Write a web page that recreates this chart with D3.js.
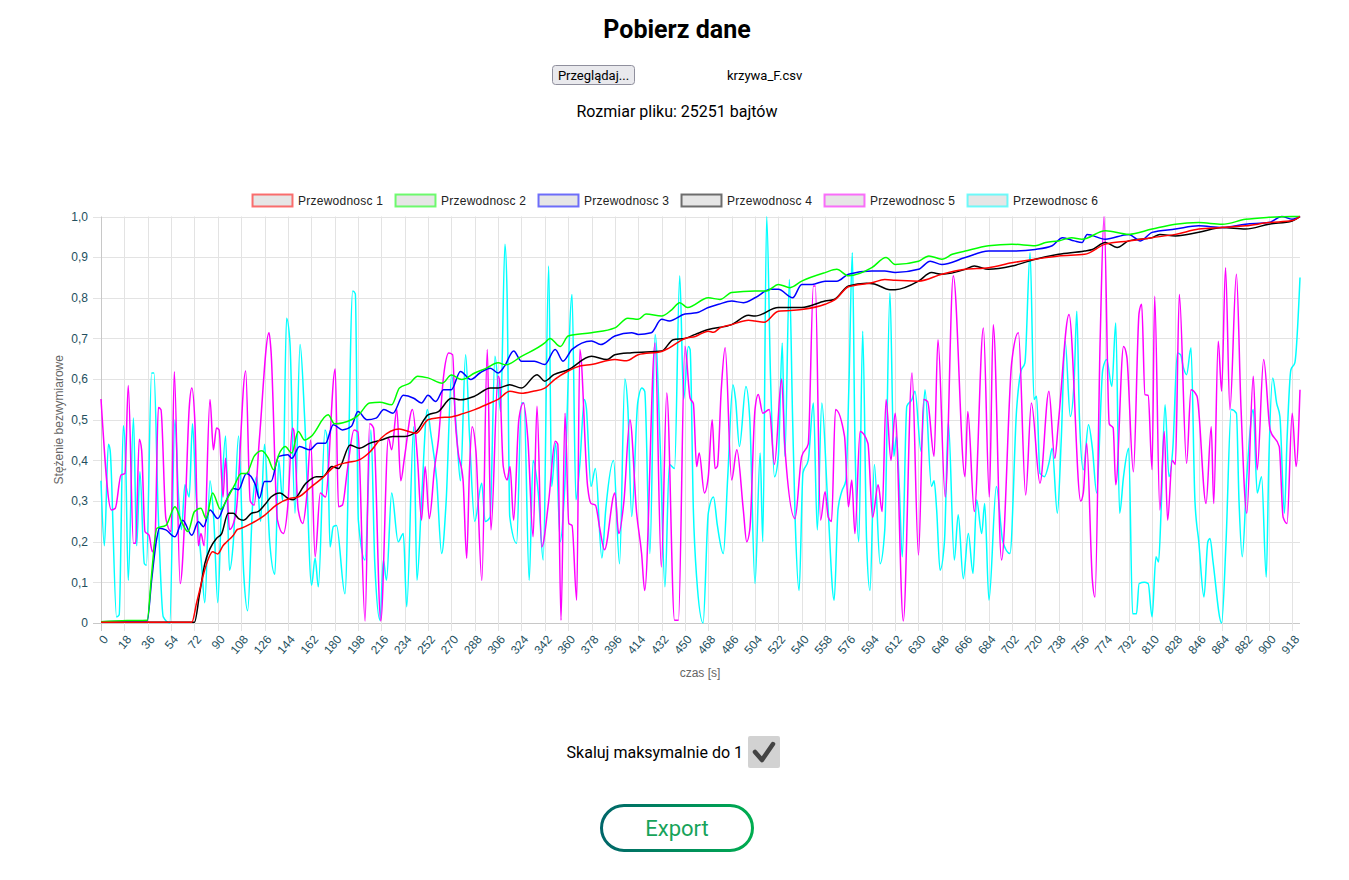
<!DOCTYPE html>
<html>
<head>
<meta charset="utf-8">
<script src="https://cdn.jsdelivr.net/npm/d3@7"></script>
<style>
  body { margin: 0; background: #fff; }
  svg { display: block; }
</style>
</head>
<body>
<div id="chart"></div>
<script>

// dane: [czas s, stezenie]
var przew1 = [[0,0.002],[70,0.002],[73.7,0.05],[76,0.08],[79,0.12],[83,0.16],[86,0.175],[90,0.17],[94,0.19],[97,0.2],[102,0.216],[105,0.23],[108,0.233],[116,0.245],[126,0.265],[135,0.29],[146,0.307],[152,0.31],[162,0.335],[170,0.355],[180,0.385],[190,0.395],[198,0.40],[207,0.42],[216,0.455],[230,0.477],[234,0.474],[243,0.467],[252,0.50],[260,0.505],[270,0.507],[279,0.515],[288,0.525],[299,0.54],[306,0.55],[315,0.57],[324,0.565],[333,0.57],[342,0.578],[350,0.6],[360,0.62],[369,0.632],[378,0.636],[396,0.648],[405,0.645],[414,0.66],[432,0.668],[438,0.677],[450,0.70],[458,0.705],[468,0.718],[472,0.715],[477,0.726],[486,0.734],[499,0.745],[504,0.743],[511,0.74],[522,0.767],[540,0.771],[558,0.784],[566,0.796],[576,0.827],[594,0.837],[604,0.845],[612,0.843],[630,0.841],[648,0.858],[666,0.87],[684,0.874],[702,0.886],[720,0.895],[738,0.903],[758,0.907],[774,0.932],[792,0.94],[810,0.948],[828,0.956],[846,0.969],[864,0.973],[882,0.977],[900,0.985],[918,0.99],[924,1.0]];

var przew2 = [[0,0.003],[20,0.006],[35.6,0.007],[39,0.12],[43,0.233],[50,0.24],[57,0.286],[62,0.25],[67,0.225],[72,0.274],[77,0.282],[81,0.257],[86,0.32],[92,0.28],[98,0.31],[103,0.34],[108,0.368],[112,0.368],[118,0.41],[124,0.424],[129,0.405],[133,0.377],[137,0.414],[142,0.434],[147,0.418],[152,0.471],[157,0.45],[162,0.459],[175,0.512],[180,0.49],[193,0.5],[198,0.51],[207,0.541],[215,0.543],[224,0.537],[230,0.578],[238,0.59],[244,0.607],[252,0.603],[263,0.59],[270,0.61],[278,0.599],[288,0.615],[297,0.627],[306,0.64],[312,0.635],[324,0.656],[342,0.689],[346,0.70],[354,0.68],[360,0.706],[378,0.714],[396,0.726],[406,0.75],[414,0.747],[420,0.76],[432,0.755],[440,0.771],[446,0.788],[452,0.776],[468,0.80],[477,0.796],[486,0.813],[504,0.817],[513,0.817],[522,0.833],[531,0.825],[540,0.841],[558,0.862],[567,0.87],[576,0.854],[594,0.874],[605,0.899],[612,0.882],[630,0.89],[638,0.903],[648,0.895],[656,0.907],[666,0.915],[684,0.928],[702,0.932],[720,0.928],[728,0.936],[738,0.94],[748,0.948],[756,0.944],[774,0.965],[792,0.956],[810,0.969],[828,0.981],[846,0.985],[864,0.981],[882,0.993],[900,0.998],[918,1.0],[924,1.0]];

var przew3 = [[0,0.003],[20,0.004],[35.6,0.005],[39,0.105],[43,0.208],[45,0.233],[50,0.229],[57,0.212],[63,0.253],[70,0.216],[75,0.249],[79,0.237],[84,0.278],[90,0.257],[96,0.298],[102,0.331],[106,0.328],[112,0.368],[119,0.34],[122,0.307],[126,0.348],[131,0.348],[137,0.41],[144,0.414],[147,0.405],[153,0.434],[161,0.426],[167,0.442],[173,0.442],[179,0.488],[186,0.475],[193,0.484],[198,0.52],[205,0.5],[212,0.504],[218,0.525],[225,0.516],[233,0.56],[241,0.553],[247,0.541],[252,0.56],[258,0.545],[264,0.574],[270,0.574],[277,0.619],[285,0.599],[292,0.615],[300,0.627],[306,0.615],[311,0.632],[318,0.669],[324,0.644],[334,0.644],[342,0.636],[350,0.673],[356,0.644],[363,0.673],[378,0.694],[385,0.685],[396,0.706],[409,0.714],[414,0.71],[424,0.714],[432,0.747],[438,0.743],[450,0.76],[459,0.763],[468,0.776],[476,0.784],[486,0.792],[495,0.788],[504,0.80],[516,0.821],[522,0.821],[533,0.80],[540,0.833],[548,0.833],[558,0.841],[567,0.841],[576,0.858],[594,0.866],[604,0.866],[612,0.862],[630,0.87],[639,0.89],[648,0.882],[666,0.899],[684,0.915],[702,0.915],[720,0.919],[733,0.928],[741,0.948],[750,0.94],[756,0.936],[760,0.956],[774,0.944],[792,0.956],[801,0.94],[810,0.961],[828,0.969],[846,0.977],[864,0.973],[882,0.981],[900,0.985],[910,1.0],[918,0.993],[924,1.0]];

var przew4 = [[0,0.002],[40,0.002],[72,0.002],[76,0.072],[80,0.146],[84,0.183],[89,0.208],[93,0.22],[98,0.27],[102,0.27],[106,0.257],[110,0.253],[116,0.27],[121,0.274],[126,0.29],[131,0.31],[138,0.32],[144,0.307],[148,0.303],[158,0.344],[166,0.36],[171,0.36],[178,0.385],[183,0.38],[192,0.438],[199,0.43],[207,0.442],[216,0.45],[225,0.459],[234,0.459],[243,0.471],[252,0.512],[260,0.52],[270,0.553],[277,0.549],[288,0.558],[300,0.578],[306,0.578],[315,0.586],[324,0.578],[336,0.611],[342,0.595],[349,0.611],[360,0.623],[378,0.656],[390,0.648],[396,0.66],[409,0.665],[432,0.669],[441,0.697],[450,0.70],[458,0.71],[468,0.722],[486,0.734],[499,0.757],[504,0.755],[522,0.776],[540,0.776],[558,0.792],[565,0.796],[576,0.829],[590,0.836],[596,0.834],[608,0.82],[612,0.82],[630,0.841],[640,0.862],[648,0.858],[666,0.87],[673,0.878],[684,0.87],[702,0.878],[720,0.895],[738,0.907],[758,0.915],[764,0.919],[774,0.936],[783,0.924],[792,0.94],[810,0.948],[816,0.956],[828,0.952],[846,0.961],[864,0.973],[882,0.969],[900,0.981],[918,0.989],[924,1.0]];

var przew5 = [[0,0.551],[8,0.278],[11,0.282],[15.4,0.364],[18.5,0.368],[21,0.584],[25,0.196],[26.7,0.196],[29.5,0.452],[31.3,0.426],[33.9,0.225],[37,0.216],[39.6,0.175],[41.6,0.204],[44.2,0.53],[46.2,0.525],[50,0.257],[54,0.225],[56.5,0.618],[61,0.097],[65,0.29],[68,0.53],[70,0.578],[72.4,0.49],[75,0.19],[77,0.22],[79.5,0.19],[84,0.55],[86.6,0.426],[89,0.48],[91,0.475],[94,0.31],[96,0.405],[99,0.23],[104,0.27],[111.5,0.62],[115,0.30],[118,0.29],[122,0.45],[129.5,0.714],[131,0.67],[136,0.253],[140.5,0.22],[144,0.29],[147.5,0.48],[148.5,0.475],[152,0.278],[155.5,0.245],[158.5,0.31],[161.6,0.45],[165,0.163],[169,0.32],[173,0.31],[180.5,0.625],[183,0.286],[186,0.29],[190,0.38],[195,0.475],[198,0.47],[203.5,0.005],[207,0.49],[210,0.48],[215.6,0.005],[221.5,0.455],[224,0.426],[228,0.525],[231,0.35],[234,0.41],[240,0.525],[244,0.4],[247,0.253],[249.8,0.385],[253,0.257],[257,0.38],[260,0.45],[264,0.607],[268,0.664],[271,0.66],[273,0.5],[275,0.426],[279,0.352],[281.8,0.159],[284,0.38],[286,0.483],[289,0.42],[293.5,0.105],[297.7,0.673],[300.5,0.229],[306,0.607],[307,0.6],[310,0.385],[313,0.352],[315.2,0.385],[318,0.253],[322,0.5],[325.5,0.541],[329,0.45],[333,0.212],[336,0.533],[339.6,0.187],[345,0.3],[350,0.447],[352,0.44],[354.5,0.007],[357.6,0.516],[360.5,0.245],[363,0.24],[366.6,0.056],[369,0.673],[375,0.336],[377.6,0.294],[381,0.29],[384.5,0.23],[388,0.18],[396,0.32],[399,0.22],[403,0.3],[407.6,0.5],[412.8,0.27],[416.6,0.171],[419,0.08],[427,0.689],[431.8,0.138],[436,0.566],[442,0.007],[445,0.007],[450,0.681],[454,0.553],[456.5,0.54],[459,0.385],[461,0.418],[465,0.32],[468,0.36],[471,0.5],[473.2,0.38],[475,0.385],[478,0.574],[481,0.677],[486,0.352],[490,0.426],[495,0.278],[497.6,0.2],[500,0.23],[504,0.525],[506.5,0.562],[510,0.516],[515,0.525],[519,0.39],[524.5,0.6],[527,0.434],[534.8,0.257],[540,0.41],[545,0.44],[549,0.829],[550.5,0.829],[554.5,0.253],[558,0.323],[560.5,0.26],[563,0.25],[566,0.525],[573,0.459],[576,0.286],[578.6,0.352],[581,0.22],[585,0.471],[591,0.442],[594.6,0.26],[598.9,0.34],[602,0.274],[605,0.55],[608.8,0.4],[612,0.516],[618.3,0.005],[625,0.615],[630,0.167],[634,0.55],[637,0.545],[642,0.41],[645,0.697],[650.6,0.31],[656.8,0.854],[665.8,0.36],[668,0.52],[673,0.274],[680,0.726],[684.6,0.31],[687.6,0.734],[694,0.155],[701.8,0.64],[707,0.714],[712.6,0.315],[717,0.541],[723.6,0.344],[730.5,0.57],[735,0.405],[738,0.5],[746,0.759],[755,0.3],[757,0.32],[759.6,0.442],[764,0.105],[766,0.064],[770,0.697],[773,1.0],[777,0.49],[780,0.48],[782,0.34],[788,0.68],[790.5,0.656],[795.6,0.372],[800,0.763],[802,0.784],[804.5,0.562],[807,0.56],[810,0.377],[812,0.804],[816,0.278],[819.4,0.471],[822,0.253],[825.5,0.4],[828,0.39],[831,0.808],[836.6,0.393],[840,0.574],[844.6,0.558],[851.6,0.294],[855.6,0.483],[857.5,0.294],[861,0.693],[863.6,0.57],[866.6,0.874],[870,0.525],[875,0.858],[878.4,0.541],[883,0.27],[888,0.607],[891,0.377],[896,0.648],[901,0.475],[908,0.434],[911,0.26],[914,0.245],[918,0.516],[921,0.385],[924,0.574]];

var przew6 = [[0,0.35],[2.6,0.19],[5.7,0.44],[7,0.426],[12,0.015],[14,0.02],[17.2,0.485],[19,0.4],[21,0.105],[25,0.504],[27.5,0.19],[30,0.372],[33.4,0.146],[35,0.142],[39,0.615],[40.8,0.615],[44,0.28],[48,0.015],[53,0.0],[57,0.5],[59.6,0.32],[62,0.23],[64.7,0.34],[68,0.31],[70.5,0.49],[73,0.33],[77.6,0.14],[80,0.05],[84,0.35],[87,0.25],[90,0.05],[93,0.31],[96,0.46],[99,0.13],[102,0.2],[106,0.46],[110,0.12],[113,0.03],[117,0.3],[120,0.36],[123,0.25],[126,0.44],[130,0.2],[134,0.12],[137,0.4],[140,0.3],[143,0.75],[145.6,0.69],[149.5,0.27],[153.4,0.685],[157,0.5],[162.3,0.093],[165,0.16],[167.5,0.089],[172.6,0.475],[174.5,0.45],[176.5,0.187],[179,0.237],[181.5,0.24],[188,0.072],[194,0.817],[196,0.81],[198.3,0.253],[203.5,0.155],[208,0.475],[211,0.146],[215,0.007],[217.6,0.155],[220,0.105],[224,0.32],[229,0.2],[233,0.22],[235.6,0.04],[241,0.483],[243.5,0.105],[247,0.3],[251.5,0.525],[254,0.47],[258.7,0.352],[262.5,0.171],[266,0.3],[270.2,0.611],[274,0.47],[277,0.35],[281,0.66],[284,0.46],[288,0.25],[293.4,0.344],[296,0.25],[299.8,0.26],[303.6,0.656],[308,0.52],[311.3,0.932],[313,0.8],[315,0.262],[320.3,0.196],[324,0.541],[326,0.541],[330,0.105],[333,0.4],[337,0.32],[340.8,0.155],[345,0.878],[347.3,0.336],[350.4,0.442],[354,0.2],[357,0.31],[363,0.808],[366,0.303],[369,0.39],[372.5,0.55],[374,0.53],[377.6,0.336],[381,0.38],[386,0.16],[389,0.28],[395,0.4],[399.6,0.146],[403.7,0.6],[406,0.53],[409,0.262],[413.6,0.541],[416.8,0.578],[419,0.57],[423,0.171],[427,0.71],[431,0.43],[434.6,0.089],[438,0.39],[442,0.38],[446,0.854],[449,0.55],[452.6,0.68],[454,0.673],[456.5,0.278],[459,0.113],[464,0.0],[468,0.27],[472,0.31],[475,0.24],[479.6,0.171],[483,0.36],[487,0.586],[489,0.55],[492,0.434],[497,0.582],[500,0.5],[504,0.097],[508,0.418],[510,0.2],[513,1.0],[516,0.6],[519,0.36],[522,0.41],[525,0.689],[527,0.41],[530.5,0.845],[533,0.5],[535,0.25],[538,0.08],[541,0.37],[545,0.4],[549,0.541],[552,0.229],[555.5,0.541],[560,0.3],[565,0.056],[568,0.28],[570.8,0.323],[574,0.35],[576.5,0.6],[579,0.911],[581,0.45],[584,0.2],[587,0.718],[590,0.2],[592.6,0.08],[596,0.39],[600.4,0.146],[604,0.229],[608,0.812],[611,0.41],[613,0.459],[615,0.35],[617.5,0.163],[621,0.533],[625,0.55],[627.3,0.57],[632,0.422],[635,0.574],[640,0.336],[642,0.35],[644,0.278],[646.6,0.13],[650,0.2],[653,0.496],[657.6,0.155],[660.6,0.266],[664.5,0.109],[668.4,0.22],[672,0.122],[674.8,0.303],[678.7,0.22],[681,0.294],[684.3,0.056],[690,0.336],[695,0.2],[700.5,0.171],[705.6,0.525],[709,0.62],[712,0.64],[716,0.911],[719,0.55],[721,0.558],[723.6,0.368],[727,0.36],[731,0.4],[733,0.43],[737,0.27],[740,0.45],[743,0.693],[747,0.508],[750,0.6],[752,0.767],[754,0.508],[757,0.377],[761,0.488],[764,0.43],[767.3,0.32],[772,0.623],[775,0.648],[779,0.582],[782,0.738],[785,0.27],[788,0.36],[792,0.43],[795,0.023],[798,0.023],[800,0.097],[804,0.1],[807,0.097],[810,0.015],[813,0.163],[815,0.15],[817,0.28],[820,0.537],[823,0.36],[826,0.43],[829.5,0.664],[832,0.66],[834,0.63],[836.6,0.611],[840,0.677],[843,0.303],[846,0.2],[850,0.064],[853,0.2],[854.7,0.208],[857,0.15],[863.6,0.0],[867,0.2],[871,0.525],[875,0.516],[877,0.3],[879.5,0.163],[883,0.36],[888,0.525],[891,0.32],[894.4,0.36],[898,0.113],[900,0.4],[903,0.603],[906,0.541],[908.5,0.508],[912,0.27],[914,0.45],[917,0.623],[920,0.64],[924,0.85]];

var seriesNames = ["Przewodnosc 1", "Przewodnosc 2", "Przewodnosc 3", "Przewodnosc 4", "Przewodnosc 5", "Przewodnosc 6"];
var seriesColors = ["#ff0000", "#00ff00", "#0000ff", "#000000", "#ff00ff", "#00ffff"];
var legendColors = ["rgba(255,0,0,0.55)", "rgba(0,255,0,0.55)", "rgba(0,0,255,0.55)", "rgba(0,0,0,0.55)", "rgba(255,0,255,0.55)", "rgba(0,255,255,0.55)"];
var xTicks = d3.range(0, 919, 18);
var yTicks = d3.range(0, 11).map(function(d){ return d / 10; });
var allSeries = [przew1, przew2, przew3, przew4, przew5, przew6];

var width = 1349, height = 880;
var plot = {left: 101, right: 1300, top: 216.5, bottom: 623};

var svg = d3.select("#chart").append("svg")
    .attr("width", width)
    .attr("height", height);

// naglowek strony
svg.append("text")
    .attr("x", 677).attr("y", 38)
    .attr("text-anchor", "middle")
    .style("font-family", "Roboto, sans-serif")
    .style("font-weight", "bold")
    .style("font-size", "25px")
    .text("Pobierz dane");

svg.append("rect")
    .attr("x", 552.5).attr("y", 65.5)
    .attr("width", 82).attr("height", 19)
    .attr("rx", 3)
    .attr("fill", "#e9e9ed")
    .attr("stroke", "#8f8f9d");

svg.append("text")
    .attr("x", 593.5).attr("y", 79.5)
    .attr("text-anchor", "middle")
    .style("font-family", "Roboto, sans-serif")
    .style("font-size", "13px")
    .text("Przeglądaj...");

svg.append("text")
    .attr("x", 727).attr("y", 79.5)
    .style("font-family", "Roboto, sans-serif")
    .style("font-size", "13px")
    .text("krzywa_F.csv");

svg.append("text")
    .attr("x", 677).attr("y", 117)
    .attr("text-anchor", "middle")
    .style("font-family", "Roboto, sans-serif")
    .style("font-size", "16px")
    .text("Rozmiar pliku: 25251 bajtów");

// skale
var x = d3.scaleLinear().domain([0, 924]).range([plot.left, plot.right]);
var y = d3.scaleLinear().domain([0, 1]).range([plot.bottom, plot.top]);

var commaFormat = function(d){
    return d === 0 ? "0" : d3.format(".1f")(d).replace(".", ",");
};

// siatka
var grid = svg.append("g");
grid.selectAll("line.h").data(yTicks).enter().append("line")
    .attr("x1", plot.left - 8).attr("x2", plot.right)
    .attr("y1", function(d){ return Math.round(y(d)) + 0.5; })
    .attr("y2", function(d){ return Math.round(y(d)) + 0.5; })
    .attr("stroke", function(d){ return d === 0 ? "#c8c8c8" : "#e3e3e3"; });

grid.selectAll("line.v").data(xTicks).enter().append("line")
    .attr("y1", plot.top).attr("y2", plot.bottom + 8)
    .attr("x1", function(d){ return Math.round(x(d)) + 0.5; })
    .attr("x2", function(d){ return Math.round(x(d)) + 0.5; })
    .attr("stroke", function(d){ return d === 0 ? "#c8c8c8" : "#e3e3e3"; });

// osie
var yAxis = svg.append("g")
    .attr("transform", "translate(" + (plot.left - 10) + ",0)")
    .call(d3.axisLeft(y).tickValues(yTicks).tickFormat(commaFormat).tickSize(0));
yAxis.select(".domain").remove();
yAxis.selectAll("text")
    .style("font-family", "'Liberation Sans', Arial, sans-serif")
    .style("font-size", "12px")
    .attr("fill", "#234f5e");

var xAxis = svg.append("g")
    .attr("transform", "translate(0," + (plot.bottom + 6) + ")")
    .call(d3.axisBottom(x).tickValues(xTicks).tickFormat(d3.format("d")).tickSize(0));
xAxis.select(".domain").remove();
xAxis.selectAll("text")
    .attr("text-anchor", "end")
    .attr("y", 0)
    .attr("dy", "0.35em")
    .attr("transform", "translate(4,8) rotate(-50)")
    .style("font-family", "'Liberation Sans', Arial, sans-serif")
    .style("font-size", "12px")
    .attr("fill", "#234f5e");

svg.append("text")
    .attr("transform", "translate(63," + ((plot.top + plot.bottom) / 2) + ") rotate(-90)")
    .attr("text-anchor", "middle")
    .style("font-family", "'Liberation Sans', Arial, sans-serif")
    .style("font-size", "12px")
    .attr("fill", "#666")
    .text("Stężenie bezwymiarowe");

svg.append("text")
    .attr("x", 700).attr("y", 677)
    .attr("text-anchor", "middle")
    .style("font-family", "'Liberation Sans', Arial, sans-serif")
    .style("font-size", "12px")
    .attr("fill", "#666")
    .text("czas [s]");

// linie serii, pierwsza seria rysowana na wierzchu
var line = d3.line()
    .x(function(d){ return x(d[0]); })
    .y(function(d){ return y(d[1]); })
    .curve(d3.curveMonotoneX);

svg.append("g").selectAll("path")
    .data(allSeries.map(function(s, i){ return {values: s, color: seriesColors[i]}; }).reverse())
    .enter().append("path")
    .attr("d", function(d){ return line(d.values); })
    .attr("fill", "none")
    .attr("stroke", function(d){ return d.color; })
    .attr("stroke-width", 1.5)
    .attr("stroke-linejoin", "round");

// legenda
var legend = svg.append("g").attr("transform", "translate(252,194)");
var legendItem = legend.selectAll("g").data(seriesNames).enter().append("g")
    .attr("transform", function(d, i){ return "translate(" + (i * 143) + ",0)"; });

legendItem.append("rect")
    .attr("x", 0.5).attr("y", 0.5)
    .attr("width", 40).attr("height", 12)
    .attr("fill", "#e6e6e6")
    .attr("stroke", function(d, i){ return legendColors[i]; })
    .attr("stroke-width", 2);

legendItem.append("text")
    .attr("x", 46).attr("y", 10.5)
    .attr("textLength", 85)
    .style("font-family", "'Liberation Sans', Arial, sans-serif")
    .style("font-size", "12px")
    .attr("fill", "#222")
    .text(function(d){ return d; });

// pole wyboru skalowania
svg.append("text")
    .attr("x", 743).attr("y", 758)
    .attr("text-anchor", "end")
    .style("font-family", "Roboto, sans-serif")
    .style("font-size", "16px")
    .text("Skaluj maksymalnie do 1");

svg.append("rect")
    .attr("x", 748).attr("y", 736)
    .attr("width", 32).attr("height", 32)
    .attr("rx", 2)
    .attr("fill", "#d2d2d2");

svg.append("path")
    .attr("d", "M755,752 L762,760 L773,744")
    .attr("fill", "none")
    .attr("stroke", "#444")
    .attr("stroke-width", 4.5)
    .attr("stroke-linecap", "round")
    .attr("stroke-linejoin", "round");

// przycisk eksportu
var defs = svg.append("defs");
var grad = defs.append("linearGradient").attr("id", "btnGrad")
    .attr("x1", "0%").attr("x2", "100%").attr("y1", "0%").attr("y2", "0%");
grad.append("stop").attr("offset", "0%").attr("stop-color", "#006669");
grad.append("stop").attr("offset", "100%").attr("stop-color", "#00ad50");

svg.append("rect")
    .attr("x", 601.5).attr("y", 805.5)
    .attr("width", 151).attr("height", 45)
    .attr("rx", 22.5)
    .attr("fill", "#fff")
    .attr("stroke", "url(#btnGrad)")
    .attr("stroke-width", 3);

svg.append("text")
    .attr("x", 677).attr("y", 836)
    .attr("text-anchor", "middle")
    .style("font-family", "Roboto, sans-serif")
    .style("font-size", "22px")
    .attr("fill", "#17a35a")
    .text("Export");

</script>
</body>
</html>
